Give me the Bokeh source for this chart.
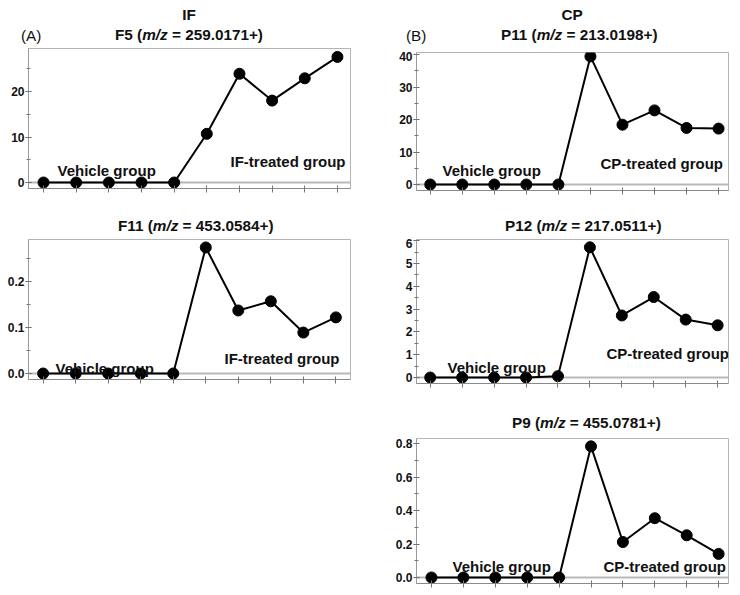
from bokeh.plotting import figure
from bokeh.models import (Label, Span, Range1d, SingleIntervalTicker, ColumnDataSource,
                          PrintfTickFormatter, Div)
from bokeh.layouts import column, row
from bokeh.embed import file_html
from bokeh.resources import INLINE

# ---------------- data ----------------
samples = [1, 2, 3, 4, 5, 6, 7, 8, 9, 10]
f5_values = [0, 0, 0, 0, 0, 10.7, 23.9, 18.0, 22.9, 27.6]
f11_values = [0, 0, 0, 0, 0, 0.274, 0.137, 0.157, 0.089, 0.122]
p11_values = [0, 0, 0, 0, 0, 39.4, 18.4, 22.8, 17.4, 17.2]
p12_values = [0, 0, 0, 0, 0.06, 5.71, 2.72, 3.53, 2.54, 2.29]
p9_values = [0, 0, 0, 0, 0, 0.783, 0.212, 0.354, 0.252, 0.141]

group_titles = ["IF", "CP"]
panel_tags = ["(A)", "(B)"]
compound_ids = ["F5", "F11", "P11", "P12", "P9"]
mz_values = ["259.0171+", "453.0584+", "213.0198+", "217.0511+", "455.0781+"]
vehicle_label = "Vehicle group"
treated_labels = ["IF-treated group", "CP-treated group"]
y_tick_intervals = [10, 0.1, 10, 1, 0.2]
y_tick_formats = ["%d", "%.1f", "%d", "%d", "%.1f"]

FONT = "Liberation Sans"
FS = 15  # px
TFS = 15.3  # title font px
ASC = 12.9  # baseline offset from top of a line box


def make_panel(values, tick_interval, tick_fmt, geom):
    fx, fy, fw, fh = geom["fig"]
    L, R, T, B = geom["frame"]
    zero_px, ppu = geom["zero"], geom["ppu"]
    x0, x1 = geom["xr"]
    y1 = (zero_px - T) / ppu
    y0 = -(B - zero_px) / ppu

    p = figure(width=fw, height=fh, output_backend="svg", toolbar_location=None,
               x_range=Range1d(x0, x1), y_range=Range1d(y0, y1),
               min_border_left=L - fx, min_border_right=fx + fw - R,
               min_border_top=T - fy, min_border_bottom=fy + fh - B)
    p.background_fill_color = "white"
    p.border_fill_color = "white"
    p.xgrid.visible = False
    p.ygrid.visible = False
    p.outline_line_color = "#b4b4b4"
    p.outline_line_width = 1

    yax = p.yaxis[0]
    yax.ticker = SingleIntervalTicker(interval=tick_interval, num_minor_ticks=2)
    yax.formatter = PrintfTickFormatter(format=tick_fmt)
    yax.axis_line_color = "#9a9a9a"
    yax.major_tick_line_color = "#555555"
    yax.minor_tick_line_color = "#777777"
    yax.major_tick_in = 3
    yax.major_tick_out = 3
    yax.minor_tick_in = 2
    yax.minor_tick_out = 2
    yax.major_label_standoff = 1
    yax.major_label_text_font = FONT
    yax.major_label_text_font_style = "bold"
    yax.major_label_text_font_size = "12px"
    yax.major_label_text_color = "#111111"

    xax = p.xaxis[0]
    xax.ticker = SingleIntervalTicker(interval=1, num_minor_ticks=0)
    xax.axis_line_color = "#8a8a8a"
    xax.major_tick_line_color = "#777777"
    xax.major_tick_in = 3
    xax.major_tick_out = 4
    xax.minor_tick_line_color = None
    xax.major_label_text_font_size = "1px"
    xax.major_label_text_color = None
    xax.major_label_standoff = 0

    p.add_layout(Span(location=0, dimension="width", line_color="#b8b8b8",
                      line_width=2, level="underlay"))

    src = ColumnDataSource(dict(x=samples, y=values))
    p.line("x", "y", source=src, line_color="black", line_width=2)
    p.scatter("x", "y", source=src, size=11, fill_color="black", line_color="black")

    def add_text(txt, px, py):
        # page pixel position -> frame-relative screen units (origin bottom-left of frame)
        p.add_layout(Label(x=px - L, y=B - py, x_units="screen", y_units="screen",
                           text=txt, text_font=FONT, text_font_style="bold",
                           text_font_size=f"{FS}px", text_align="left",
                           text_baseline="alphabetic", text_color="#111111"))

    return p, add_text


def span_html(html, left, baseline, weight="bold", center=False):
    top = baseline - ASC
    if center:
        pos = f"left:{left - 100}px;width:200px;text-align:center;"
    else:
        pos = f"left:{left}px;"
    return (f'<div style="position:absolute;{pos}top:{top:.1f}px;line-height:15px;'
            f'white-space:nowrap;font-family:\'{FONT}\';font-size:{TFS}px;'
            f'font-weight:{weight};color:#111111;">{html}</div>')


def title_div(width, height, parts):
    inner = "".join(parts)
    html = (f'<div style="position:relative;width:{width}px;height:{height}px;'
            f'overflow:visible;">{inner}</div>')
    return Div(text=html, width=width, height=height, margin=0)


def compound_title(cid, mz):
    return f"{cid} (<i>m/z</i> = {mz})"


geoms = {
    "A": dict(fig=(0, 47, 370, 153), frame=(28, 350, 48, 188), zero=182, ppu=4.55, xr=(0.54, 10.40)),
    "C": dict(fig=(0, 238, 370, 162), frame=(26, 355, 239, 379), zero=373, ppu=460, xr=(0.55, 10.45)),
    "B": dict(fig=(370, 51, 368, 149), frame=(410, 728, 52, 190), zero=184, ppu=3.25, xr=(0.57, 10.31)),
    "D": dict(fig=(370, 238, 368, 154), frame=(413, 731, 239, 383), zero=377, ppu=22.8, xr=(0.57, 10.34)),
    "E": dict(fig=(370, 437, 368, 156), frame=(416, 731, 438, 583), zero=577, ppu=167.5, xr=(0.53, 10.31)),
}

# ---- left column ----
divA = title_div(370, 47, [
    span_html(group_titles[0], 189, 19.5, center=True),
    span_html(panel_tags[0], 21, 40.5, weight="normal"),
    span_html(compound_title(compound_ids[0], mz_values[0]), 115, 39.5),
])
pA, tA = make_panel(f5_values, y_tick_intervals[0], y_tick_formats[0], geoms["A"])
tA(vehicle_label, 57, 169.5)
tA(treated_labels[0], 230, 161)

divC = title_div(370, 38, [
    span_html(compound_title(compound_ids[1], mz_values[1]), 118, 231 - 200),
])
pC, tC = make_panel(f11_values, y_tick_intervals[1], y_tick_formats[1], geoms["C"])
tC(vehicle_label, 53, 368)
tC(treated_labels[0], 222, 358)

# ---- right column ----
divB = title_div(368, 51, [
    span_html(group_titles[1], 572 - 370, 19.5, center=True),
    span_html(panel_tags[1], 406 - 370, 40.5, weight="normal"),
    span_html(compound_title(compound_ids[2], mz_values[2]), 501 - 370, 39.5),
])
pB, tB = make_panel(p11_values, y_tick_intervals[2], y_tick_formats[2], geoms["B"])
tB(vehicle_label, 436, 169.5)
tB(treated_labels[1], 594, 163)

divD = title_div(368, 38, [
    span_html(compound_title(compound_ids[3], mz_values[3]), 505 - 370, 231 - 200),
])
pD, tD = make_panel(p12_values, y_tick_intervals[3], y_tick_formats[3], geoms["D"])
tD(vehicle_label, 444, 367)
tD(treated_labels[1], 603, 353)

divE = title_div(368, 45, [
    span_html(compound_title(compound_ids[4], mz_values[4]), 512 - 370, 428 - 392),
])
pE, tE = make_panel(p9_values, y_tick_intervals[4], y_tick_formats[4], geoms["E"])
tE(vehicle_label, 452, 566)
tE(treated_labels[1], 603, 566)

layout = row(column(divA, pA, divC, pC, spacing=0),
             column(divB, pB, divD, pD, divE, pE, spacing=0), spacing=0)

open("out.html", "w").write(file_html(layout, INLINE))
